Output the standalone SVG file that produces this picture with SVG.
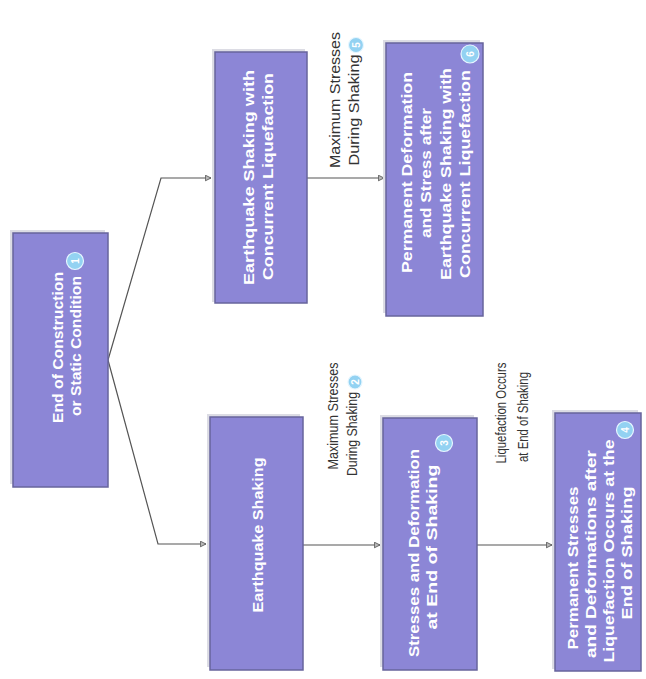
<svg xmlns="http://www.w3.org/2000/svg" width="646" height="679" viewBox="0 0 646 679">
<defs>
<style>
.box{fill:#8c86d6;stroke:#67649c;stroke-width:1.5}
.shadow{fill:#dcdce4}
.bt{font-family:"Liberation Sans",Arial,sans-serif;font-weight:bold;font-size:15px;fill:#ffffff;text-anchor:middle}
.lt{font-family:"Liberation Sans",Arial,sans-serif;font-size:14px;fill:#333333;text-anchor:middle}
.num{fill:#93d2f2;stroke:#e6f6ff;stroke-width:1.2}
.nt{font-family:"Liberation Sans",Arial,sans-serif;font-weight:bold;font-size:10px;fill:#ffffff;text-anchor:middle}
.conn{fill:none;stroke:#555555;stroke-width:1.2}
</style>
<marker id="arr" viewBox="0 0 10 10" refX="9" refY="5" markerWidth="7" markerHeight="7" markerUnits="userSpaceOnUse" orient="auto">
<path d="M1,1 L9,5 L1,9 z" fill="#b8b8b8" stroke="#555555" stroke-width="1.2"/>
</marker>
</defs>
<rect width="646" height="679" fill="#ffffff"/>

<g id="connectors">
<path class="conn" d="M108,360 L161,178 L211,178" marker-end="url(#arr)"/>
<path class="conn" d="M108,360 L158,544 L206,544" marker-end="url(#arr)"/>
<path class="conn" d="M307,178 L384,178" marker-end="url(#arr)"/>
<path class="conn" d="M303,545 L380,545" marker-end="url(#arr)"/>
<path class="conn" d="M477,545 L552,545" marker-end="url(#arr)"/>
</g>

<g id="label-max-stresses-5">
<text class="lt" style="font-size:14.5px" transform="translate(340,100) rotate(-90)" textLength="136" lengthAdjust="spacingAndGlyphs">Maximum Stresses</text>
<text class="lt" style="font-size:14.5px" transform="translate(359,110) rotate(-90)" textLength="111" lengthAdjust="spacingAndGlyphs">During Shaking</text>
<circle class="num" cx="356" cy="45" r="7.5"/>
<text class="nt" transform="translate(359.5,45) rotate(-90)">5</text>
</g>

<g id="label-max-stresses-2">
<text class="lt" transform="translate(338,416) rotate(-90)" textLength="107" lengthAdjust="spacingAndGlyphs">Maximum Stresses</text>
<text class="lt" transform="translate(357,434) rotate(-90)" textLength="84" lengthAdjust="spacingAndGlyphs">During Shaking</text>
<circle class="num" cx="355" cy="382" r="7"/>
<text class="nt" transform="translate(358.5,382) rotate(-90)">2</text>
</g>

<g id="label-liquefaction">
<text class="lt" transform="translate(506,413) rotate(-90)" textLength="101" lengthAdjust="spacingAndGlyphs">Liquefaction Occurs</text>
<text class="lt" transform="translate(528,417) rotate(-90)" textLength="90" lengthAdjust="spacingAndGlyphs">at End of Shaking</text>
</g>

<g id="node-1">
<rect class="shadow" x="10" y="230" width="95" height="254"/>
<rect class="box" x="13" y="233" width="95" height="254"/>
<text class="bt" transform="translate(62.5,347.5) rotate(-90)" textLength="151" lengthAdjust="spacingAndGlyphs">End of Construction</text>
<text class="bt" transform="translate(80.5,346) rotate(-90)" textLength="140" lengthAdjust="spacingAndGlyphs">or Static Condition</text>
<circle class="num" cx="75" cy="261" r="8.5"/>
<text class="nt" transform="translate(78.5,261) rotate(-90)">1</text>
</g>

<g id="node-eq-liq">
<rect class="shadow" x="212" y="49" width="93" height="253"/>
<rect class="box" x="215" y="52" width="92" height="251"/>
<text class="bt" transform="translate(254,177.5) rotate(-90)" textLength="215" lengthAdjust="spacingAndGlyphs">Earthquake Shaking with</text>
<text class="bt" transform="translate(273,176.5) rotate(-90)" textLength="207" lengthAdjust="spacingAndGlyphs">Concurrent Liquefaction</text>
</g>

<g id="node-eq">
<rect class="shadow" x="207" y="414" width="93" height="253"/>
<rect class="box" x="210" y="417" width="93" height="253"/>
<text class="bt" transform="translate(262.5,535) rotate(-90)" textLength="155" lengthAdjust="spacingAndGlyphs">Earthquake Shaking</text>
</g>

<g id="node-6">
<rect class="shadow" x="383" y="40" width="97" height="273"/>
<rect class="box" x="386" y="43" width="97" height="273"/>
<text class="bt" transform="translate(412,172.5) rotate(-90)" textLength="201" lengthAdjust="spacingAndGlyphs">Permanent Deformation</text>
<text class="bt" transform="translate(431,173) rotate(-90)" textLength="130" lengthAdjust="spacingAndGlyphs">and Stress after</text>
<text class="bt" transform="translate(451,174) rotate(-90)" textLength="212" lengthAdjust="spacingAndGlyphs">Earthquake Shaking with</text>
<text class="bt" transform="translate(470,174) rotate(-90)" textLength="208" lengthAdjust="spacingAndGlyphs">Concurrent Liquefaction</text>
<circle class="num" cx="470" cy="54" r="9"/>
<text class="nt" transform="translate(473.5,54) rotate(-90)">6</text>
</g>

<g id="node-3">
<rect class="shadow" x="380" y="415" width="94" height="252"/>
<rect class="box" x="383" y="418" width="94" height="252"/>
<text class="bt" transform="translate(419,553) rotate(-90)" textLength="208" lengthAdjust="spacingAndGlyphs">Stresses and Deformation</text>
<text class="bt" transform="translate(437,547) rotate(-90)" textLength="165" lengthAdjust="spacingAndGlyphs">at End of Shaking</text>
<circle class="num" cx="444" cy="443" r="8.5"/>
<text class="nt" transform="translate(447.5,443) rotate(-90)">3</text>
</g>

<g id="node-4">
<rect class="shadow" x="552" y="410" width="86" height="259"/>
<rect class="box" x="555" y="413" width="86" height="258"/>
<text class="bt" transform="translate(577.5,568) rotate(-90)" textLength="163" lengthAdjust="spacingAndGlyphs">Permanent Stresses</text>
<text class="bt" transform="translate(595.5,554) rotate(-90)" textLength="208" lengthAdjust="spacingAndGlyphs">and Deformations after</text>
<text class="bt" transform="translate(613.5,551) rotate(-90)" textLength="223" lengthAdjust="spacingAndGlyphs">Liquefaction Occurs at the</text>
<text class="bt" transform="translate(631.5,553) rotate(-90)" textLength="133" lengthAdjust="spacingAndGlyphs">End of Shaking</text>
<circle class="num" cx="625" cy="430" r="8.5"/>
<text class="nt" transform="translate(628.5,430) rotate(-90)">4</text>
</g>
</svg>
